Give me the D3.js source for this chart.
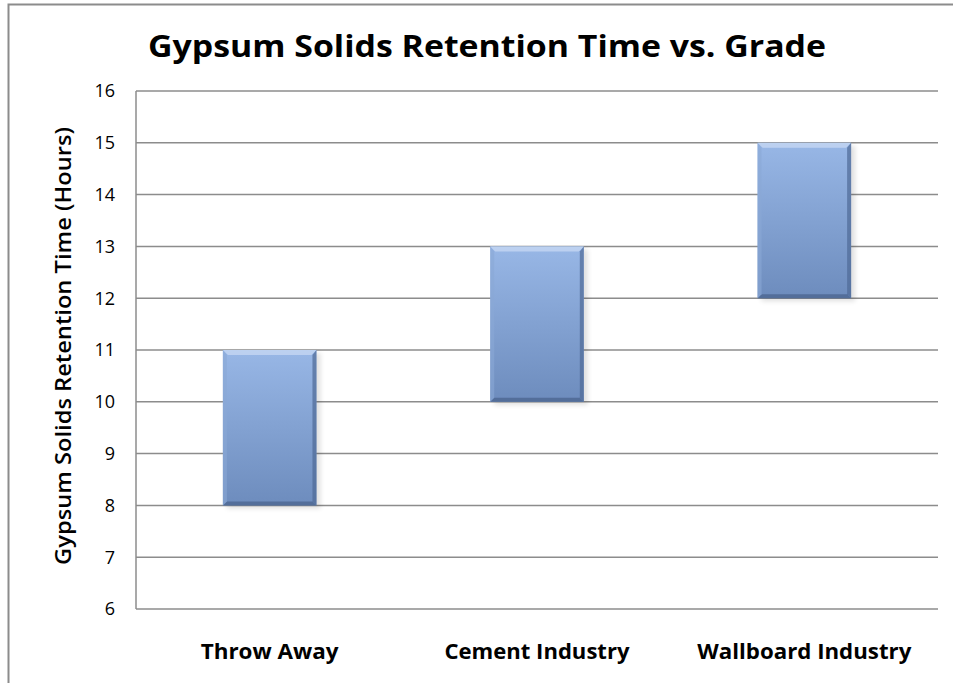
<!DOCTYPE html>
<html>
<head>
<meta charset="utf-8">
<script src="https://cdn.jsdelivr.net/npm/d3@7"></script>
<style>
  body { margin: 0; background: #fff; }
  text { font-family: "Open Sans", "Liberation Sans", sans-serif; }
</style>
</head>
<body>
<div id="container"></div>
<script>
const categories = ["Throw Away", "Cement Industry", "Wallboard Industry"];
const lowValues = [8, 10, 12];
const highValues = [11, 13, 15];
const yTicks = [6, 7, 8, 9, 10, 11, 12, 13, 14, 15, 16];

const width = 953, height = 683;
const margin = { top: 91, right: 15, bottom: 74, left: 136 };

const svg = d3.select('#container')
    .append('svg').attr('width', width).attr('height', height)

const defs = svg.append('defs')
const grad = defs.append('linearGradient').attr('id', 'barGrad')
    .attr('x1', 0).attr('y1', 0).attr('x2', 0).attr('y2', 1)
grad.append('stop').attr('offset', '0%').attr('stop-color', '#98b7e6')
grad.append('stop').attr('offset', '100%').attr('stop-color', '#6d8cbd')

const blur = defs.append('filter').attr('id', 'shadow')
    .attr('x', '-20%').attr('y', '-20%').attr('width', '140%').attr('height', '140%')
blur.append('feGaussianBlur').attr('stdDeviation', 2.5)

// outer frame
svg.append('path')
    .attr('d', `M8.5,${height} V4.5 H${width}`)
    .attr('stroke', '#8c8c8c').attr('stroke-width', 2).attr('fill', 'none')

const x = d3.scaleBand().domain(categories)
    .range([margin.left, width - margin.right]).paddingInner(0).paddingOuter(0)
const y = d3.scaleLinear().domain([6, 16]).range([height - margin.bottom, margin.top])

// gridlines
svg.append('g').selectAll('line').data(yTicks.slice(1)).join('line')
    .attr('x1', margin.left).attr('x2', width - margin.right)
    .attr('y1', d => y(d)).attr('y2', d => y(d))
    .attr('stroke', '#8c8c8c').attr('stroke-width', 1.5)

// axes lines
svg.append('line')
    .attr('x1', margin.left).attr('x2', margin.left)
    .attr('y1', y(16)).attr('y2', y(6))
    .attr('stroke', '#8c8c8c').attr('stroke-width', 1.5)
svg.append('line')
    .attr('x1', margin.left).attr('x2', width - margin.right)
    .attr('y1', y(6)).attr('y2', y(6))
    .attr('stroke', '#8c8c8c').attr('stroke-width', 1.5)

// y tick labels
svg.append('g').selectAll('text').data(yTicks).join('text')
    .attr('x', 115).attr('y', d => y(d)).attr('dy', '0.36em')
    .attr('text-anchor', 'end').attr('font-size', 18).attr('fill', '#000')
    .text(d => d)

const barW = x.bandwidth() * 0.35
const bars = categories.map((c, i) => ({ c, lo: lowValues[i], hi: highValues[i] }))

// soft shadow
svg.append('g').selectAll('rect').data(bars).join('rect')
    .attr('x', d => x(d.c) + x.bandwidth() / 2 - barW / 2 + 4)
    .attr('y', d => y(d.hi) + 3)
    .attr('width', barW).attr('height', d => y(d.lo) - y(d.hi))
    .attr('fill', '#000').attr('opacity', 0.12).attr('filter', 'url(#shadow)')

const bg = svg.append('g').selectAll('g').data(bars).join('g')
    .attr('transform', d => `translate(${x(d.c) + x.bandwidth() / 2 - barW / 2},${y(d.hi)})`)

bg.append('rect')
    .attr('width', barW).attr('height', d => y(d.lo) - y(d.hi))
    .attr('fill', 'url(#barGrad)')
// bevel: top highlight
bg.append('path')
    .attr('d', `M0,0 H${barW} L${barW - 5},5 H5 Z`)
    .attr('fill', '#c5d7f2').attr('opacity', 0.8)
// bevel: right shade
bg.append('path')
    .attr('d', d => { const h = y(d.lo) - y(d.hi); return `M${barW},0 V${h} L${barW - 4},${h - 4} V5 Z` })
    .attr('fill', '#4f6a96').attr('opacity', 0.7)
// bevel: bottom shade
bg.append('path')
    .attr('d', d => { const h = y(d.lo) - y(d.hi); return `M0,${h} H${barW} L${barW - 4},${h - 4} H4 Z` })
    .attr('fill', '#4c6691').attr('opacity', 0.8)
// bevel: left light
bg.append('path')
    .attr('d', d => { const h = y(d.lo) - y(d.hi); return `M0,0 L4,5 V${h - 4} L0,${h} Z` })
    .attr('fill', '#8aa8d6').attr('opacity', 0.6)

// category labels
const catWidths = [138, 185, 214]
svg.append('g').selectAll('text').data(categories).join('text')
    .attr('x', d => x(d) + x.bandwidth() / 2).attr('y', 659)
    .attr('text-anchor', 'middle').attr('font-size', 21).attr('font-weight', 'bold')
    .attr('textLength', (d, i) => catWidths[i]).attr('lengthAdjust', 'spacingAndGlyphs')
    .text(d => d)

// title
svg.append('text')
    .attr('x', 487).attr('y', 57).attr('text-anchor', 'middle')
    .attr('font-size', 30).attr('font-weight', 'bold')
    .attr('textLength', 678).attr('lengthAdjust', 'spacingAndGlyphs')
    .text('Gypsum Solids Retention Time vs. Grade')

// y axis title
svg.append('text')
    .attr('transform', 'translate(71,346) rotate(-90)')
    .attr('text-anchor', 'middle').attr('font-size', 21).attr('font-weight', 600)
    .attr('textLength', 438).attr('lengthAdjust', 'spacingAndGlyphs')
    .text('Gypsum Solids Retention Time (Hours)')
</script>
</body>
</html>
